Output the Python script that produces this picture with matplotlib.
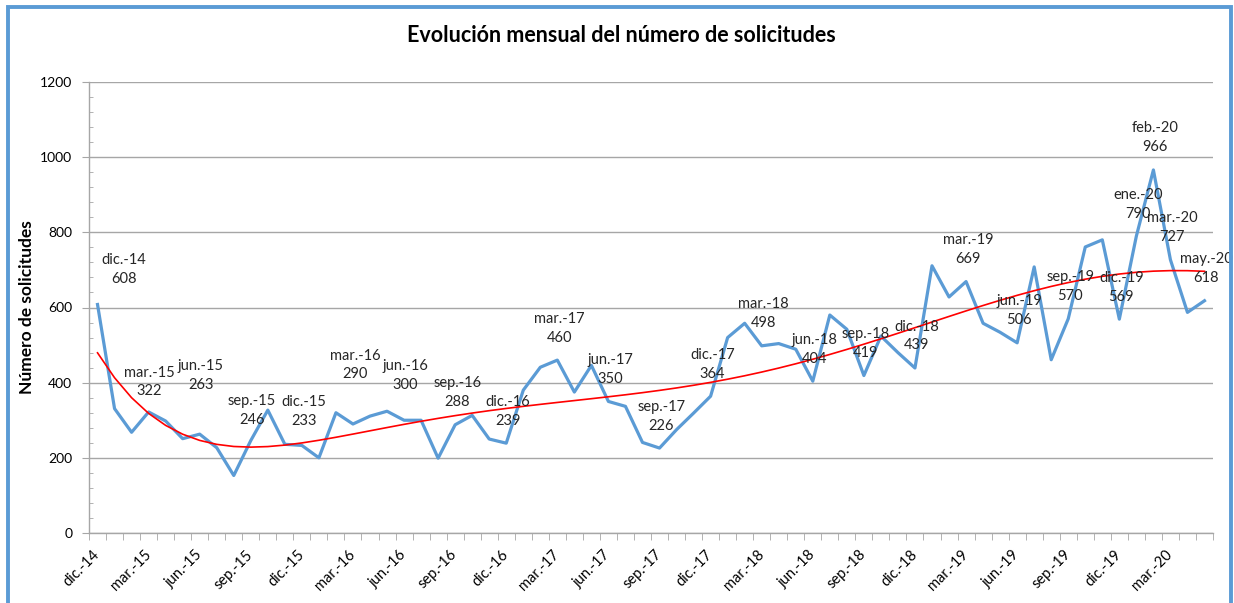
import numpy as np
import matplotlib.pyplot as plt
from matplotlib.patches import Rectangle
from matplotlib.ticker import MultipleLocator

# ============================================================================
# DATA
# ============================================================================

month_names = ['ene', 'feb', 'mar', 'abr', 'may', 'jun',
               'jul', 'ago', 'sep', 'oct', 'nov', 'dic']

# monthly requests from dic.-14 to may.-20
solicitudes = [
    608, 331, 268, 322, 298, 251, 263, 227, 153, 246, 327, 236,   # dic14 - nov15
    233, 200, 320, 290, 311, 324, 300, 300, 199, 288, 313, 250,   # dic15 - nov16
    239, 380, 441, 460, 375, 446, 350, 337, 241, 226, 275, 319,   # dic16 - nov17
    364, 520, 558, 498, 504, 489, 404, 580, 542, 419, 524, 480,   # dic17 - nov18
    439, 711, 628, 669, 558, 534, 506, 708, 461, 570, 761, 780,   # dic18 - nov19
    569, 790, 966, 727, 587, 618,                                 # dic19 - may20
]

# category labels "dic.-14", "ene.-15", ...
labels = []
for k in range(len(solicitudes)):
    m = (11 + k) % 12
    yy = 14 + (11 + k) // 12
    labels.append(f"{month_names[m]}.-{yy}")

# points that carry a data label
labelled = [0, 3, 6, 9, 12, 15, 18, 21, 24, 27, 30, 33, 36, 39, 42, 45,
            48, 51, 54, 57, 60, 61, 62, 63, 65]

# label offsets in pixels (dx, dy of the value line) where not default
label_offsets = {0: (26, 25), 3: (1, 20), 6: (1, 49), 9: (1, 20),
                 12: (2, 24), 15: (2, 49), 18: (1, 35)}

x = np.arange(len(solicitudes))
y = np.array(solicitudes)

# polynomial trend line (order 6, as the spreadsheet trendline)
coef = np.polyfit(x, y, 6)
trend = np.polyval(coef, x)

# ============================================================================
# PLOT
# ============================================================================

plt.rcParams['font.family'] = ['Lato', 'DejaVu Sans']

W, H = 1234, 603
fig = plt.figure(figsize=(W / 100, H / 100), dpi=100)
ax = fig.add_axes([89 / W, 70 / H, (1213 - 89) / W, (533 - 82) / H])

grid_col = '#A6A6A6'

ax.plot(x, y, color='#5B9BD5', linewidth=2.3, zorder=3)
ax.plot(x, trend, color='#FF0000', linewidth=1.2, zorder=4)

ax.set_xlim(-0.5, len(x) - 0.5)
ax.set_ylim(0, 1200)

# y axis
ax.yaxis.set_major_locator(MultipleLocator(200))
ax.yaxis.set_minor_locator(MultipleLocator(40))
ax.tick_params(axis='y', which='major', length=5, color=grid_col,
               labelsize=10, pad=7)
ax.tick_params(axis='y', which='minor', length=3, direction='in',
               color=grid_col)
ax.grid(axis='y', which='major', color=grid_col, linewidth=1.0, zorder=0)

# x axis: ticks between categories, labels every 3 months
ax.set_xticks(np.arange(-0.5, len(x), 1.0), minor=True)
ax.set_xticks(x[::3])
ax.set_xticklabels(labels[::3], rotation=45, ha='right', va='center',
                   rotation_mode='anchor', fontsize=10.5)
ax.tick_params(axis='x', which='major', length=0, pad=14)
ax.tick_params(axis='x', which='minor', length=5, color=grid_col)

for side in ['top', 'right']:
    ax.spines[side].set_visible(False)
for side in ['left', 'bottom']:
    ax.spines[side].set_color(grid_col)
    ax.spines[side].set_linewidth(1.0)

ax.set_ylabel('Número de solicitudes', fontsize=12.5, fontweight='bold',
              labelpad=4)

# data labels
for i in labelled:
    dx, dy = label_offsets.get(i, (2, 22))
    ax.annotate(f"{labels[i]}\n{solicitudes[i]}", (x[i], y[i]),
                xytext=(dx, dy + 10), textcoords='offset pixels',
                ha='center', va='center', fontsize=10.5, linespacing=1.45,
                color='#262626', zorder=5)

fig.text(621 / W, 1 - 36 / H, 'Evolución mensual del número de solicitudes',
         ha='center', va='center', fontsize=15.5, fontweight='bold')

# blue chart frame
fig.patches.append(Rectangle((8 / W, -0.05), (1230.5 - 8) / W, 1.05 - 7 / H,
                             transform=fig.transFigure, fill=False,
                             edgecolor='#5B9BD5', linewidth=2.8))

fig.savefig('out.png', dpi=100)
